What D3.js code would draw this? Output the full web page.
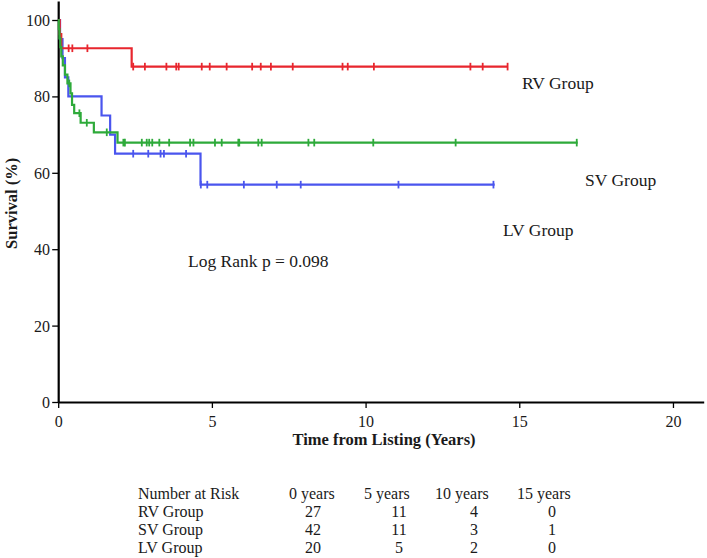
<!DOCTYPE html>
<html>
<head>
<meta charset="utf-8">
<script src="https://cdn.jsdelivr.net/npm/d3@7"></script>
<style>
  html, body { margin: 0; padding: 0; background: #fff; }
  svg { display: block; font-family: "Liberation Serif", "Times New Roman", serif; }
</style>
</head>
<body>
<svg id="chart" width="707" height="558"></svg>
<script>
// ---- Data ----
const groups = ["RV Group", "SV Group", "LV Group"];

// Kaplan-Meier steps: [time (years), survival (%)]
const rvSteps = [[0, 100], [0.05, 96.3], [0.10, 92.6], [2.39, 87.8]];
const rvEnd = 14.62;
const rvCensor = [0.34, 0.46, 0.95, 2.44, 2.82, 3.52, 3.84, 3.92, 4.67, 4.93, 5.48, 6.31, 6.59, 6.92, 7.63, 9.25, 9.42, 10.27, 13.41, 13.81, 14.62];

const svSteps = [[0, 100], [0.02, 97.6], [0.04, 95.2], [0.07, 92.9], [0.10, 90.5], [0.15, 88.1], [0.22, 85.7], [0.30, 83.4], [0.40, 80.8], [0.45, 77.8], [0.52, 75.6], [0.73, 73.1], [1.16, 70.6], [1.93, 67.9]];
const svEnd = 16.9;
const svCensor = [0.36, 0.69, 0.93, 1.58, 2.12, 2.17, 2.72, 2.88, 2.96, 3.06, 3.29, 3.61, 4.29, 4.40, 5.10, 5.32, 5.86, 5.89, 6.51, 6.62, 8.14, 8.33, 10.25, 12.93, 16.87];

const lvSteps = [[0, 100], [0.06, 95], [0.14, 90], [0.22, 85], [0.33, 80], [1.41, 75], [1.69, 70], [1.85, 65], [4.63, 56.9]];
const lvEnd = 14.2;
const lvCensor = [2.44, 2.93, 3.33, 3.44, 4.16, 4.64, 4.85, 6.04, 7.11, 7.89, 11.07, 14.16];

const xTicks = [0, 5, 10, 15, 20];
const yTicks = [0, 20, 40, 60, 80, 100];

const riskHeader = ["Number at Risk", "0 years", "5 years", "10 years", "15 years"];
const riskRV = [27, 11, 4, 0];
const riskSV = [42, 11, 3, 1];
const riskLV = [20, 5, 2, 0];

const pValueText = "Log Rank p = 0.098";

// ---- Drawing ----
const svg = d3.select("#chart");
const W = 707, H = 558;
svg.append("rect").attr("width", W).attr("height", H).attr("fill", "#fff");

const x = d3.scaleLinear().domain([0, 21]).range([58.2, 703.7]);
const y = d3.scaleLinear().domain([0, 105]).range([402, 0.9]);

const textColor = "#1a1a1a";

// Axes
const xAxis = d3.axisBottom(x).tickValues(xTicks).tickSize(6).tickSizeOuter(0);
const yAxis = d3.axisLeft(y).tickValues(yTicks).tickSize(6).tickSizeOuter(0);

const gx = svg.append("g").attr("transform", `translate(0,${y(0)})`).call(xAxis);
const gy = svg.append("g").attr("transform", `translate(${x(0)},0)`).call(yAxis);

[gx, gy].forEach(g => {
  g.select(".domain").attr("stroke", "#000").attr("stroke-width", 2.2);
  g.selectAll(".tick line").attr("stroke", "#000").attr("stroke-width", 1.3);
  g.selectAll(".tick text").attr("fill", textColor)
    .style("font-family", '"Liberation Serif", "Times New Roman", serif')
    .style("font-size", "16px");
});
gx.selectAll(".tick text").attr("dy", "1.0em");
gy.selectAll(".tick text").attr("dx", "0.05em").attr("dy", "0.34em");

// Axis titles
svg.append("text")
  .attr("x", x(10.6)).attr("y", 445)
  .attr("text-anchor", "middle")
  .attr("font-weight", "bold").attr("font-size", 16.5).attr("fill", textColor)
  .text("Time from Listing (Years)");

svg.append("text")
  .attr("transform", `translate(17,${y(52)}) rotate(-90)`)
  .attr("text-anchor", "middle")
  .attr("font-weight", "bold").attr("font-size", 16.5).attr("fill", textColor)
  .text("Survival (%)");

// Curves
const line = d3.line().x(d => x(d[0])).y(d => y(d[1])).curve(d3.curveStepAfter);

function survAt(steps, t) {
  let s = steps[0][1];
  for (const st of steps) { if (st[0] <= t) s = st[1]; }
  return s;
}

const series = [
  { name: "LV Group", steps: lvSteps, end: lvEnd, censor: lvCensor, color: "#4a55ee" },
  { name: "RV Group", steps: rvSteps, end: rvEnd, censor: rvCensor, color: "#e8262e" },
  { name: "SV Group", steps: svSteps, end: svEnd, censor: svCensor, color: "#2eaa3a" }
];

series.forEach(s => {
  const pts = s.steps.concat([[s.end, s.steps[s.steps.length - 1][1]]]);
  svg.append("path")
    .datum(pts)
    .attr("fill", "none")
    .attr("stroke", s.color)
    .attr("stroke-width", 2.2)
    .attr("d", line);
  svg.append("g").selectAll("line")
    .data(s.censor)
    .join("line")
    .attr("x1", d => x(d)).attr("x2", d => x(d))
    .attr("y1", d => y(survAt(s.steps, d)) - 3.8)
    .attr("y2", d => y(survAt(s.steps, d)) + 3.8)
    .attr("stroke", s.color)
    .attr("stroke-width", 1.8);
});

// Group labels
const labelFont = 17.5;
const groupLabels = [
  { text: groups[0], x: 522, y: 89 },
  { text: groups[1], x: 585, y: 186 },
  { text: groups[2], x: 503, y: 236 }
];
svg.append("g").selectAll("text")
  .data(groupLabels)
  .join("text")
  .attr("x", d => d.x).attr("y", d => d.y)
  .attr("font-size", labelFont).attr("fill", textColor)
  .text(d => d.text);

svg.append("text")
  .attr("x", 188).attr("y", 267)
  .attr("font-size", labelFont).attr("fill", textColor)
  .text(pValueText);

// Number at risk table
const tableFont = 16;
const headerX = [138, 289, 364, 435, 517];
const numX = [313, 399, 474, 552];
const rowY = [499, 517, 535, 553];
const tbl = svg.append("g").attr("font-size", tableFont).attr("fill", textColor);
riskHeader.forEach((h, i) => {
  tbl.append("text").attr("x", headerX[i]).attr("y", rowY[0]).text(h);
});
[riskRV, riskSV, riskLV].forEach((row, r) => {
  tbl.append("text").attr("x", headerX[0]).attr("y", rowY[r + 1]).text(groups[r]);
  row.forEach((v, i) => {
    tbl.append("text")
      .attr("x", numX[i]).attr("y", rowY[r + 1])
      .attr("text-anchor", "middle")
      .text(v);
  });
});
</script>
</body>
</html>
